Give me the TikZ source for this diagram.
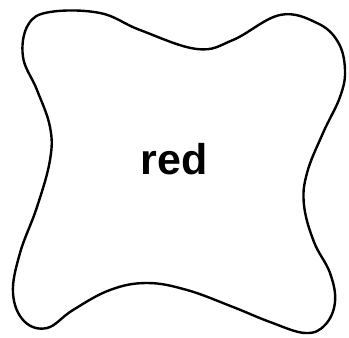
\documentclass[tikz,border=0pt]{standalone}
\usepackage{fontspec}
\setmainfont{Liberation Sans}
\usepackage{tikz}

\tikzset{
  blob/.style={line width=2.4pt,black,line join=round},
  blobtext/.style={font=\fontsize{43}{50}\selectfont\bfseries,inner sep=0pt}
}

\begin{document}
\begin{tikzpicture}[x=1pt,y=-1pt]
  \useasboundingbox (0,0) rectangle (349,338);

  % Outline - four-lobed cushion
  \draw[blob] plot[smooth cycle,tension=0.65] coordinates {
    (50,12) (100,13) (140,30) (197,49) (233,40) (280,15) (317,23)
    (338,42) (345,70) (340,97) (323,133) (307,173) (304,205)
    (314,242) (330,273) (335,302) (325,325) (305,333) (270,322)
    (233,307) (187,290) (147,283) (110,290) (73,310) (47,328)
    (24,321) (13,293) (20,253) (37,207) (50,160) (50,127)
    (37,90) (23,57) (28,25)
  };

  % Label
  \node[blobtext] (lbl) at (174,159) {red};
\end{tikzpicture}
\end{document}
